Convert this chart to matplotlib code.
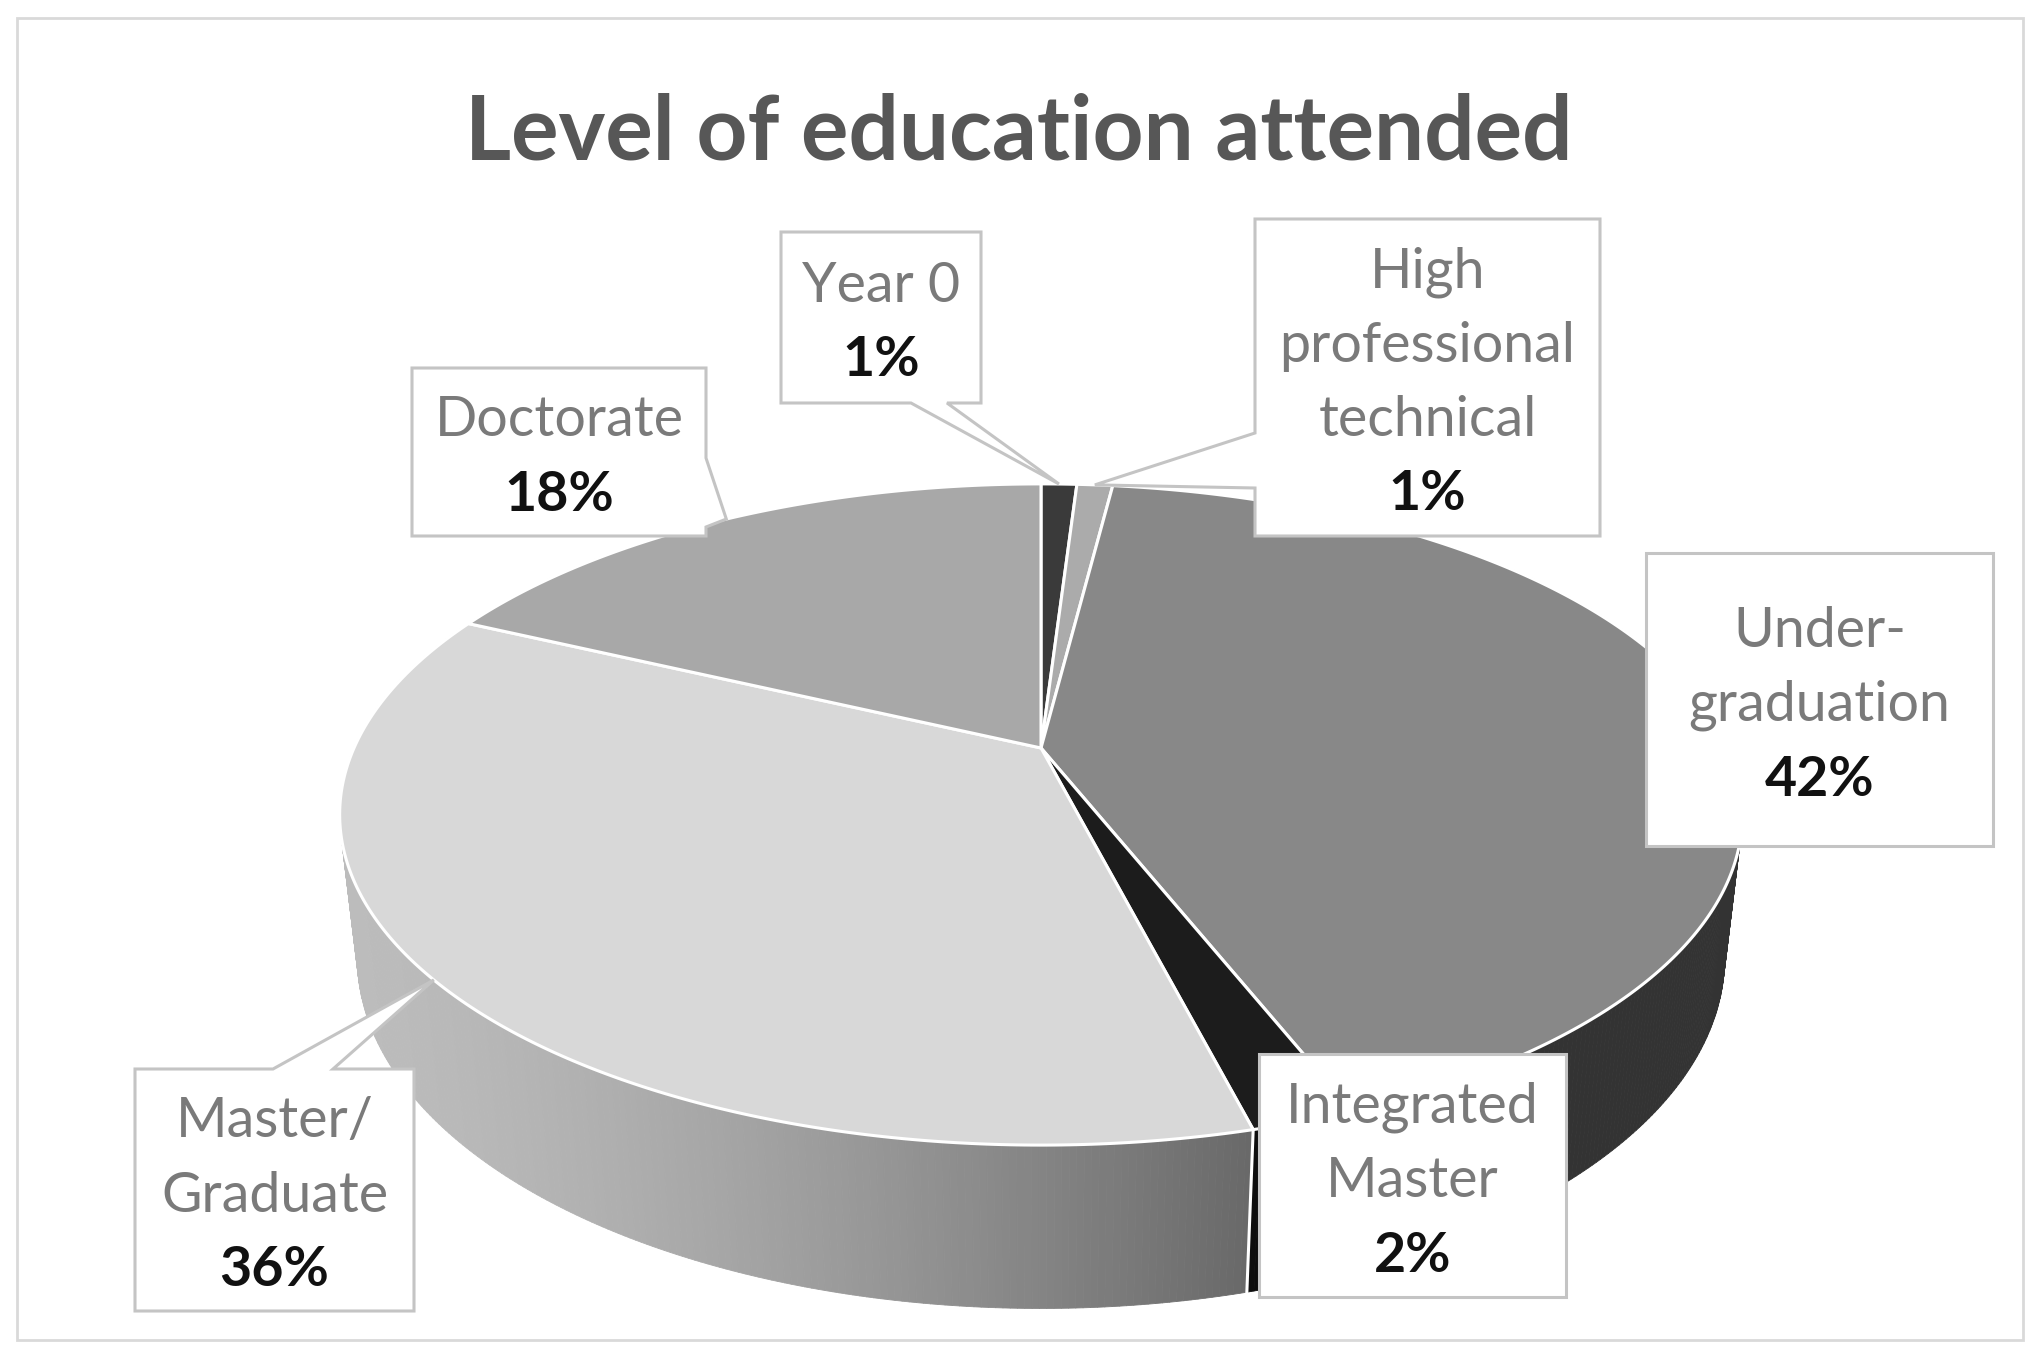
import numpy as np
import matplotlib.pyplot as plt
from matplotlib.patches import Polygon, Rectangle
from matplotlib.collections import PolyCollection

plt.rcParams['font.family'] = ['Lato', 'DejaVu Sans']

# data (clockwise from 12 o'clock)
categories = ['Year 0', 'High\nprofessional\ntechnical', 'Under-\ngraduation',
              'Integrated\nMaster', 'Master/\nGraduate', 'Doctorate']
shares = [1, 1, 42, 2, 36, 18]
title = 'Level of education attended'

# styles
top_colors = ['#3a3a3a', '#ababab', '#888888', '#1c1c1c', '#d8d8d8', '#a8a8a8']

# label boxes in pixel coords (x0, y0, x1, y1), plus wedge edge/base
label_boxes = [(781, 232, 981, 403), (1255, 219, 1600, 536), (1646, 553, 1993, 846),
               (1259, 1054, 1566, 1297), (135, 1069, 414, 1311), (412, 368, 706, 536)]
wedges = [('bottom', 911, 947), ('left', 433, 488), None,
          None, ('top', 273, 333), ('right', 458, 527)]

W, H = 2040, 1353
CX, CY = 1041, 748
S = 687
TILT = np.radians(27.5)
DIST = 4.41
THICK = 0.237


def project(r, phi, y):
    x = r * np.cos(phi)
    z = r * np.sin(phi)
    yr = y * np.cos(TILT) + z * np.sin(TILT)
    zr = z * np.cos(TILT) - y * np.sin(TILT)
    k = DIST / (DIST + zr)
    return CX + S * x * k, CY - S * yr * k, zr


def gray(v):
    v = float(np.clip(v, 0, 1))
    return (v, v, v)


fig = plt.figure(figsize=(W / 100, H / 100), dpi=100)
ax = fig.add_axes([0, 0, 1, 1])
ax.set_xlim(0, W)
ax.set_ylim(H, 0)
ax.axis('off')

ax.add_patch(Rectangle((17, 18), 2006, 1322, fill=False, edgecolor='#d9d9d9', lw=2))

cum = np.concatenate([[0], np.cumsum(shares)]) / sum(shares)
starts = np.pi / 2 - 2 * np.pi * cum[:-1]
ends = np.pi / 2 - 2 * np.pi * cum[1:]

# side walls
quads, cols, depth = [], [], []
for i in range(len(shares)):
    n = max(4, int(abs(ends[i] - starts[i]) / np.radians(0.5)))
    phis = np.linspace(starts[i], ends[i], n + 1)
    base = np.mean(plt.matplotlib.colors.to_rgb(top_colors[i]))
    for a, b in zip(phis[:-1], phis[1:]):
        xa, ya, za = project(1, a, 0)
        xb, yb, zb = project(1, b, 0)
        xa2, ya2, _ = project(1, a, -THICK)
        xb2, yb2, _ = project(1, b, -THICK)
        quads.append([(xa, ya), (xb, yb), (xb2, yb2), (xa2, ya2)])
        t = np.clip(((xa + xb) / 2 - 340) / 890, 0, 2)
        f = max(0.87 - 0.37 * t ** 1.5, 0.375)
        cols.append(gray(base * f))
        depth.append((za + zb) / 2)
order = np.argsort(depth)[::-1]
pc = PolyCollection([quads[j] for j in order], facecolors=[cols[j] for j in order],
                    edgecolors=[cols[j] for j in order], linewidths=0.6, zorder=2)
ax.add_collection(pc)

# white seams on the visible front wall
for phi in ends:
    if np.sin(phi) < -0.25:
        x1, y1, _ = project(1, phi, 0)
        x2, y2, _ = project(1, phi, -THICK)
        ax.plot([x1, x2], [y1, y2], color='white', lw=2.2, zorder=3)

# top faces
for i in range(len(shares)):
    n = max(4, int(abs(ends[i] - starts[i]) / np.radians(0.5)))
    phis = np.linspace(starts[i], ends[i], n + 1)
    px, py, _ = project(1, phis, 0)
    pts = [(CX, CY)] + list(zip(px, py))
    ax.add_patch(Polygon(pts, closed=True, facecolor=top_colors[i], edgecolor='white',
                         lw=2.2, joinstyle='round', zorder=4))

# callout labels
for i, cat in enumerate(categories):
    x0, y0, x1, y1 = label_boxes[i]
    mid = (starts[i] + ends[i]) / 2
    tx, ty, _ = project(1, mid, 0)
    pts = [(x0, y0), (x1, y0), (x1, y1), (x0, y1)]
    w = wedges[i]
    if w is not None:
        edge, a, b = w
        if edge == 'top':
            pts = [(x0, y0), (a, y0), (tx, ty), (b, y0), (x1, y0), (x1, y1), (x0, y1)]
        elif edge == 'right':
            pts = [(x0, y0), (x1, y0), (x1, a), (tx, ty), (x1, b), (x1, y1), (x0, y1)]
        elif edge == 'bottom':
            pts = [(x0, y0), (x1, y0), (x1, y1), (b, y1), (tx, ty), (a, y1), (x0, y1)]
        else:
            pts = [(x0, y0), (x1, y0), (x1, y1), (x0, y1), (x0, b), (tx, ty), (x0, a)]
    ax.add_patch(Polygon(pts, closed=True, facecolor='white', edgecolor='#c4c4c4',
                         lw=2.2, joinstyle='miter', zorder=6))
    lines = cat.split('\n') + [f'{shares[i]}%']
    cy = (y0 + y1) / 2 + 6
    cxb = (x0 + x1) / 2
    for j, line in enumerate(lines):
        yy = cy + (j - (len(lines) - 1) / 2) * 74
        bold = j == len(lines) - 1
        ax.text(cxb, yy, line, ha='center', va='center', fontsize=40,
                color='#111111' if bold else '#7a7a7a',
                fontweight='bold' if bold else 'normal', zorder=7)

ax.text(1019, 134, title, ha='center', va='center', fontsize=64, fontweight='bold',
        color='#575757', zorder=7)

fig.savefig('out.png', dpi=100)
